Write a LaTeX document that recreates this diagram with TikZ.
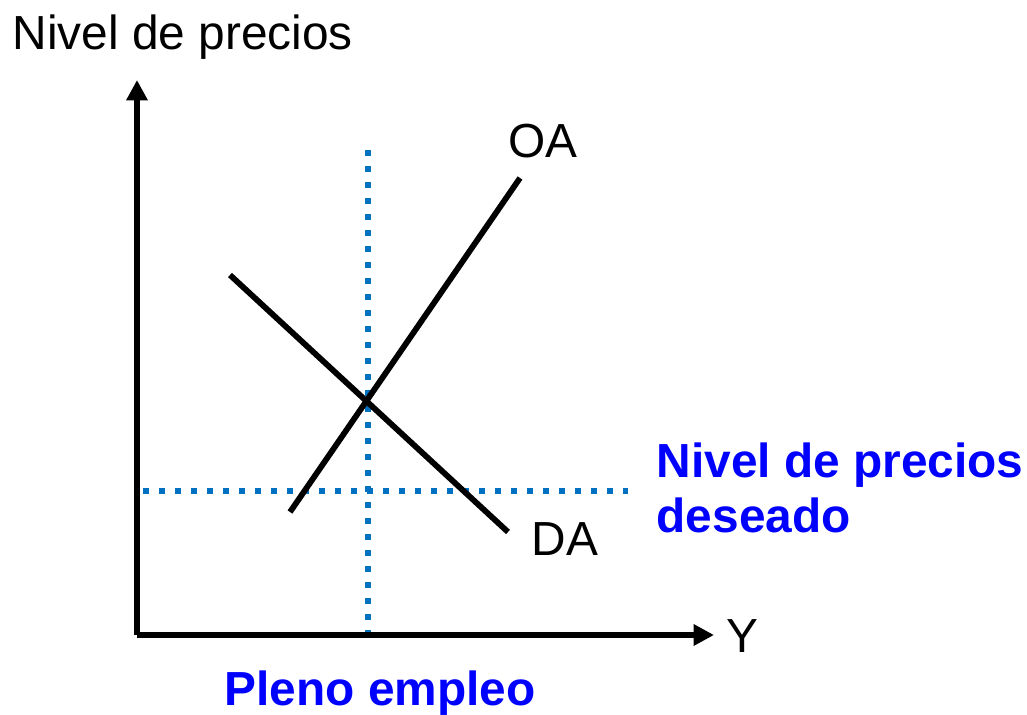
\documentclass[tikz,border=0pt]{standalone}
\usepackage{fontspec}
\setmainfont{Liberation Sans}
\usetikzlibrary{arrows.meta}
\definecolor{dotblue}{HTML}{0070C0}
\definecolor{txtblue}{HTML}{0000FF}
\tikzset{
  axis/.style={line width=1.65pt,-{Triangle[length=5.8pt,width=5.8pt]}},
  curve/.style={line width=1.65pt},
  guide/.style={dotblue,line width=1.7pt,dash pattern=on 1.7pt off 2.85pt},
  lbl/.style={inner sep=0pt,font=\fontsize{13.6}{13.6}\selectfont},
  bluelbl/.style={lbl,text=txtblue,font=\fontsize{13.6}{15.6}\selectfont\bfseries}
}
\begin{document}
\begin{tikzpicture}[x=0.01cm,y=-0.01cm]
\useasboundingbox (0,0) rectangle (1027,715);
% coordinates
\coordinate (O) at (137,635);
\coordinate (ytop) at (137,80);
\coordinate (xend) at (714,635);
\coordinate (vtop) at (368,150);
\coordinate (vbot) at (368,635);
\coordinate (hl) at (143,491);
\coordinate (hr) at (628,491);
\coordinate (oa1) at (290,512);
\coordinate (oa2) at (520,178);
\coordinate (da1) at (230,275);
\coordinate (da2) at (508,532);
% guides
\draw[guide] (vtop) -- (vbot);
\draw[guide] (hl) -- (hr);
% axes
\draw[axis] (O) -- (ytop);
\draw[axis] (O) -- (xend);
% curves
\draw[curve] (oa1) -- (oa2);
\draw[curve] (da1) -- (da2);
% labels
\node[lbl,anchor=base west] (ylab) at (12,49) {Nivel de precios};
\node[lbl,anchor=base west] (xlab) at (726,652) {Y};
\node[lbl,anchor=base west] (oalab) at (508,157) {OA};
\node[lbl,anchor=base west] (dalab) at (531,555) {DA};
\node[bluelbl,anchor=north west,align=left] (deseado) at (656,442) {Nivel de precios\\deseado};
\node[bluelbl,anchor=base] (pleno) at (380,705) {Pleno empleo};
\end{tikzpicture}
\end{document}
